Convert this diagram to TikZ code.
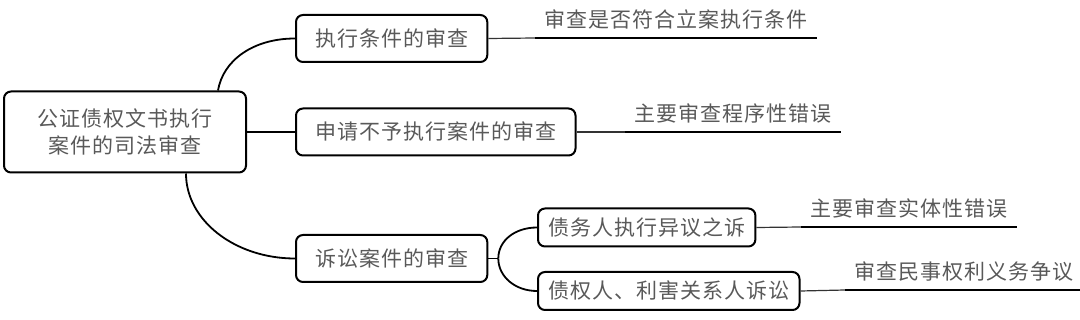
\documentclass[tikz,border=0pt]{standalone}
\usepackage{fontspec}
\newfontfamily\cjk{Noto Sans CJK SC}[LetterSpace=5]

\begin{document}
\begin{tikzpicture}[x=1pt,y=-1pt,
    font=\cjk\fontsize{21}{27}\selectfont,
    topicbox/.style={draw, line width=2pt, rounded corners=7pt, text=black!65,
      text height=18.5pt, text depth=2.5pt},
    topic/.style={topicbox, anchor=west, inner xsep=19pt, minimum height=47pt},
    subtopic/.style={topicbox, anchor=west, inner xsep=10pt, minimum height=38pt},
    note/.style={anchor=south west, text=black!65, inner xsep=9pt, inner ysep=8pt,
      text height=18.5pt, text depth=2.5pt},
    link/.style={line width=1.8pt},
    stub/.style={line width=1.2pt, black!80},
    uline/.style={line width=2.4pt}]

    \useasboundingbox (0,0) rectangle (1080,320);

    % =====================
    % Central topic
    % =====================
    \node[draw, line width=2pt, rounded corners=7pt, text=black!65, align=center,
      minimum width=242pt, minimum height=81pt] (root) at (125,132)
      {公证债权文书执行\\案件的司法审查};

    % =====================
    % Main branches
    % =====================
    \node[topic] (exec) at (295,38.5) {执行条件的审查};
    \node[topic] (refuse) at (295,132) {申请不予执行案件的审查};
    \node[topic] (suit) at (295,258.5) {诉讼案件的审查};

    \node[subtopic] (objection) at (537,227.5) {债务人执行异议之诉};
    \node[subtopic] (creditor) at (537,291) {债权人、利害关系人诉讼};

    % =====================
    % Notes
    % =====================
    \node[note] (execnote) at (535,38) {审查是否符合立案执行条件};
    \node[note] (refusenote) at (625,132) {主要审查程序性错误};
    \node[note] (objnote) at (801,227) {主要审查实体性错误};
    \node[note] (crednote) at (845,290) {审查民事权利义务争议};

    % =====================
    % Connectors
    % =====================
    \draw[link] ([xshift=-29pt]root.north east) .. controls +(5,-30) and +(-42,0) .. (exec.west);
    \draw[link] (root.east) -- (refuse.west);
    \draw[link] ([xshift=-61pt]root.south east) .. controls +(0,47) and +(-60,0) .. (suit.west);

    \coordinate (fork) at ([xshift=10pt]suit.east);
    \draw[link] (suit.east) -- (fork);
    \draw[link] (fork) .. controls +(0,-18) and +(-22,0) .. (objection.west);
    \draw[link] (fork) .. controls +(0,18) and +(-22,0) .. (creditor.west);

    \draw[stub] (exec.east) -- (execnote.south west);
    \draw[stub] (refuse.east) -- (refusenote.south west);
    \draw[stub] (objection.east) -- (objnote.south west);
    \draw[stub] (creditor.east) -- (crednote.south west);

    \draw[uline] (execnote.south west) -- (execnote.south east);
    \draw[uline] (refusenote.south west) -- (refusenote.south east);
    \draw[uline] (objnote.south west) -- (objnote.south east);
    \draw[uline] (crednote.south west) -- (crednote.south east);

\end{tikzpicture}
\end{document}
